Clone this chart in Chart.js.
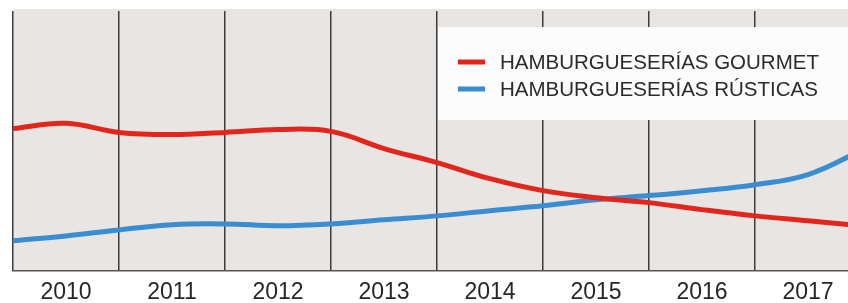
<!DOCTYPE html>
<html>
<head>
<meta charset="utf-8">
<script src="https://cdn.jsdelivr.net/npm/chart.js@4.4.1/dist/chart.umd.min.js"></script>
<style>
  html, body { margin: 0; padding: 0; background: #fff; overflow: hidden; }
  #wrap { position: relative; width: 848px; height: 303px; }
</style>
</head>
<body>
<div id="wrap"><canvas id="grafico"></canvas></div>
<script>
const anios = ['2010', '2011', '2012', '2013', '2014', '2015', '2016', '2017'];
// puntos leidos cada medio anio (bordes y centro de cada columna)
const tiempos = [2009.5, 2010, 2010.5, 2011, 2011.5, 2012, 2012.5, 2013, 2013.5,
    2014, 2014.5, 2015, 2015.5, 2016, 2016.5, 2017, 2017.5];
const gourmet = [54.8, 56.8, 53.3, 52.5, 53.3, 54.4, 53.7, 47.1, 41.7,
    35.5, 30.9, 28.2, 26.3, 23.6, 21.2, 19.3, 17.4];
const rusticas = [11.6, 13.5, 15.8, 17.8, 18.1, 17.4, 18.1, 19.7, 21.2,
    23.2, 25.1, 27.4, 29.0, 30.9, 33.2, 37.1, 46.3];
const series = ['HAMBURGUESERÍAS GOURMET', 'HAMBURGUESERÍAS RÚSTICAS'];
const colores = ['#e3261c', '#3b8dd1'];

const fuente = '"Liberation Sans", Arial, Helvetica, sans-serif';

const fondo = {
    id: 'fondo',
    beforeDraw(chart) {
        const a = chart.chartArea;
        const c = chart.ctx;
        c.save();
        c.fillStyle = '#e8e5e2';
        c.fillRect(a.left, a.top - 2, a.right - a.left, a.bottom - a.top + 2);
        c.restore();
    }
};

// leyenda en caja blanca encima de la rejilla
const leyenda = {
    id: 'leyenda',
    beforeDatasetsDraw(chart) {
        const a = chart.chartArea;
        const c = chart.ctx;
        const x0 = chart.scales.x.getPixelForValue(2013.5);
        c.save();
        c.fillStyle = '#fcfcfc';
        c.fillRect(x0 + 1, a.top + 16, a.right - x0, 93);
        chart.data.datasets.forEach((ds, i) => {
            const y = a.top + 51 + i * 27;
            c.strokeStyle = ds.borderColor;
            c.lineWidth = 5;
            c.beginPath();
            c.moveTo(x0 + 21, y);
            c.lineTo(x0 + 48, y);
            c.stroke();
            c.fillStyle = '#2b2b2b';
            c.font = '20.5px ' + fuente;
            c.textBaseline = 'middle';
            c.fillText(ds.label, x0 + 63, y + 1);
        });
        c.restore();
    }
};

const ctx = document.getElementById('grafico');

new Chart(ctx, {
    type: 'line',
    data: {
        datasets: [
            {
                label: series[0],
                data: tiempos.map((t, i) => ({ x: t, y: gourmet[i] })),
                borderColor: colores[0],
                borderWidth: 5,
                tension: 0.4,
                pointRadius: 0
            },
            {
                label: series[1],
                data: tiempos.map((t, i) => ({ x: t, y: rusticas[i] })),
                borderColor: colores[1],
                borderWidth: 5,
                tension: 0.4,
                pointRadius: 0
            }
        ]
    },
    options: {
        responsive: true,
        maintainAspectRatio: false,
        animation: false,
        layout: {
            padding: { left: 13, top: 11, right: 0, bottom: -11 }
        },
        scales: {
            x: {
                type: 'linear',
                min: 2009.5,
                max: 2017.377,
                afterBuildTicks(scale) {
                    const t = [];
                    for (let v = 2009.5; v <= 2017.377; v += 0.5) t.push({ value: v });
                    scale.ticks = t;
                },
                ticks: {
                    autoSkip: false,
                    maxRotation: 0,
                    padding: 10,
                    color: '#262626',
                    font: { family: fuente, size: 23, lineHeight: 1 },
                    callback: (v) => (v % 1 === 0 ? anios[v - 2010] : '')
                },
                grid: {
                    drawTicks: false,
                    lineWidth: 1.5,
                    color: (c) => (c.tick && c.tick.value % 1 !== 0 ? '#3c3c3c' : 'rgba(0,0,0,0)')
                },
                border: { display: true, color: '#555', width: 1.5 }
            },
            y: {
                display: false,
                min: 0,
                max: 100
            }
        },
        plugins: {
            legend: { display: false },
            tooltip: { enabled: false }
        }
    },
    plugins: [fondo, leyenda]
});
</script>
</body>
</html>
